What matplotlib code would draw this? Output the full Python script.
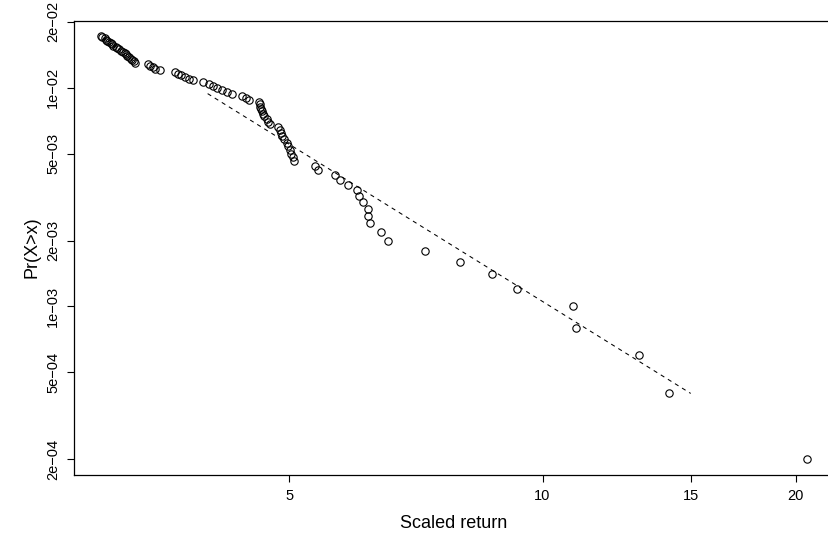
import matplotlib
matplotlib.use("Agg")
import matplotlib.pyplot as plt
from matplotlib.ticker import FixedLocator, NullLocator

# scaled returns in the upper tail (largest first)
scaled_return = [
    20.6, 14.14, 13.03, 10.96, 10.88, 9.32, 8.72, 7.98, 7.25, 6.56,
    6.42, 6.23, 6.21, 6.20, 6.12, 6.06, 6.02, 5.87, 5.74, 5.67,
    5.41, 5.36, 5.07, 5.05, 5.03, 5.01, 4.99, 4.97, 4.93, 4.90,
    4.89, 4.87, 4.85, 4.74, 4.72, 4.70, 4.67, 4.65, 4.64, 4.63,
    4.62, 4.61, 4.60, 4.48, 4.44, 4.40, 4.28, 4.22, 4.16, 4.10,
    4.06, 4.01, 3.95, 3.84, 3.80, 3.76, 3.72, 3.69, 3.66, 3.51,
    3.46, 3.44, 3.42, 3.40, 3.28, 3.27, 3.25, 3.24, 3.23, 3.21,
    3.20, 3.19, 3.17, 3.16, 3.14, 3.12, 3.11, 3.09, 3.08, 3.07,
    3.05, 3.04, 3.03, 3.02, 3.00, 2.99,
]
# empirical Pr(X > x)
prob_exceed = [
    0.0002, 0.0004, 0.0006, 0.0008, 0.0010, 0.0012, 0.0014, 0.0016, 0.0018, 0.0020,
    0.0022, 0.0024, 0.0026, 0.0028, 0.0030, 0.0032, 0.0034, 0.0036, 0.0038, 0.0040,
    0.0042, 0.0044, 0.0046, 0.0048, 0.0050, 0.0052, 0.0054, 0.0056, 0.0058, 0.0060,
    0.0062, 0.0064, 0.0066, 0.0068, 0.0070, 0.0072, 0.0074, 0.0076, 0.0078, 0.0080,
    0.0082, 0.0084, 0.0086, 0.0088, 0.0090, 0.0092, 0.0094, 0.0096, 0.0098, 0.0100,
    0.0102, 0.0104, 0.0106, 0.0108, 0.0110, 0.0112, 0.0114, 0.0116, 0.0118, 0.0120,
    0.0122, 0.0124, 0.0126, 0.0128, 0.0130, 0.0132, 0.0134, 0.0136, 0.0138, 0.0140,
    0.0142, 0.0144, 0.0146, 0.0148, 0.0150, 0.0152, 0.0154, 0.0156, 0.0158, 0.0160,
    0.0162, 0.0164, 0.0166, 0.0168, 0.0170, 0.0172,
]

# fitted power-law tail (end points)
fit_x = [4.0, 15.0]
fit_y = [0.0094, 0.0004]

x_ticks = [5, 10, 15, 20]
y_ticks = [2e-04, 5e-04, 1e-03, 2e-03, 5e-03, 1e-02, 2e-02]
y_labels = ["2e\u221204", "5e\u221204", "1e\u221203", "2e\u221203", "5e\u221203", "1e\u221202", "2e\u221202"]

plt.rcParams["font.family"] = ["Liberation Sans", "DejaVu Sans"]

fig = plt.figure(figsize=(8.29, 5.42), dpi=100)
# right edge of the box lies just outside the picture, as in the original
ax = fig.add_axes([74 / 829, 67.3 / 542, 760 / 829, 454.2 / 542])

ax.plot(scaled_return, prob_exceed, linestyle="none", marker="o", markersize=5.3,
        markerfacecolor="none", markeredgecolor="black", markeredgewidth=0.8)
ax.plot(fit_x, fit_y, color="black", linewidth=0.75, linestyle=(0, (4, 4)))

ax.set_xscale("log")
ax.set_yscale("log")
ax.set_xlim(2.775, 22.2)
ax.set_ylim(1.70e-4, 0.0203)

ax.xaxis.set_major_locator(FixedLocator(x_ticks))
ax.xaxis.set_minor_locator(NullLocator())
ax.set_xticklabels([str(t) for t in x_ticks])
ax.yaxis.set_major_locator(FixedLocator(y_ticks))
ax.yaxis.set_minor_locator(NullLocator())
ax.set_yticklabels(y_labels, rotation=90, va="center")

ax.tick_params(direction="out", length=5, width=0.8, labelsize=10.5, pad=5)
for s in ax.spines.values():
    s.set_linewidth(0.9)

ax.set_xlabel("Scaled return", fontsize=13, labelpad=9)
ax.set_ylabel("Pr(X>x)", fontsize=13, labelpad=4)

fig.savefig("out.png", dpi=100)
